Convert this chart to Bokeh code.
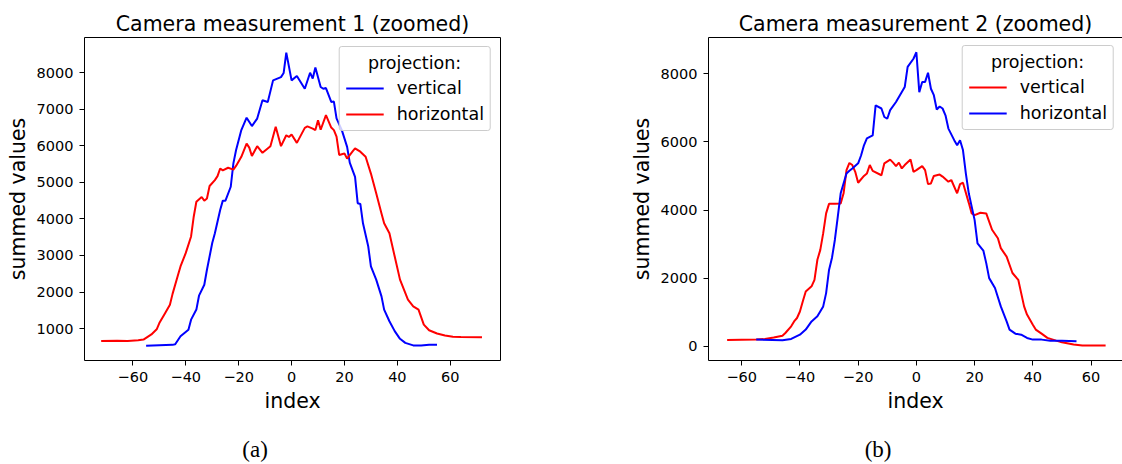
from bokeh.plotting import figure
from bokeh.models import Legend, LegendItem, LinearAxis, FixedTicker, Range1d
from bokeh.layouts import row
from bokeh.embed import file_html
from bokeh.resources import INLINE

# ---------------- data ----------------
# Measurement 1
m1_vert_x = [-55, -50, -45, -44, -42, -39, -38, -36, -35, -33, -32, -30, -29, -27, -26, -25, -23, -22, -21, -19,
             -17, -15, -13, -11, -9, -7, -4, -3, -2, 0, 2, 5, 7, 8, 9, 11, 12, 13, 15, 16,
             17, 19, 21, 22, 24, 25, 26, 27, 29, 30, 32, 34, 35, 37, 39, 41, 43, 46, 49, 52, 55]
m1_vert_y = [530, 545, 555, 570, 790, 970, 1245, 1520, 1900, 2200, 2610, 3340, 3610, 4245, 4500, 4500, 4880, 5520, 5880, 6430,
             6770, 6540, 6745, 7245, 7200, 7790, 7880, 7990, 8550, 7790, 7910, 7560, 8000, 7840, 8140, 7610, 7560, 7580, 7200, 7210,
             6750, 6430, 5970, 5540, 5150, 4430, 4410, 3880, 3245, 2700, 2340, 1880, 1520, 1200, 930, 720, 610, 540, 535, 555, 555]
m1_horz_x = [-72, -66, -62, -58, -56, -53, -51, -50, -48, -46, -45, -43, -42, -40, -38, -37, -36, -34, -33, -32,
             -31, -29, -28, -27, -26, -24, -22, -21, -19, -17, -16, -15, -13, -11, -8, -6, -4, -2, -1, 0,
             2, 5, 6, 8, 9, 10, 11, 13, 15, 16, 17, 18, 20, 21, 23, 24, 26, 28, 30, 32,
             34, 35, 37, 39, 41, 44, 46, 48, 50, 52, 55, 58, 61, 64, 72]
m1_horz_y = [660, 670, 660, 680, 700, 840, 980, 1150, 1400, 1650, 1950, 2450, 2700, 3070, 3520, 4060, 4470, 4600, 4500, 4560,
             4900, 5060, 5170, 5380, 5330, 5400, 5350, 5450, 5700, 6060, 5950, 5720, 5990, 5810, 5990, 6520, 5990, 6290, 6240, 6310,
             6080, 6490, 6530, 6470, 6430, 6700, 6440, 6840, 6500, 6430, 6250, 5750, 5790, 5650, 5840, 5930, 5840, 5700, 5240, 4700,
             4150, 3880, 3610, 2970, 2340, 1790, 1610, 1520, 1110, 955, 865, 810, 775, 770, 760]

# Measurement 2
m2_vert_x = [-65, -55, -52, -49, -46, -45, -43, -42, -41, -40, -39, -38, -36, -35, -34, -33, -32, -31, -30, -28,
             -26, -25, -24, -23, -22, -21, -20, -18, -17, -16, -15, -12, -11, -9, -8, -7, -6, -5, -4, -2,
             -1, 0, 2, 3, 4, 5, 6, 8, 9, 11, 12, 14, 15, 16, 18, 19, 20, 22, 24, 25,
             26, 28, 29, 31, 33, 35, 36, 37, 38, 40, 41, 43, 45, 48, 50, 54, 57, 65]
m2_vert_y = [185, 195, 215, 255, 310, 390, 585, 730, 830, 1020, 1320, 1610, 1760, 1950, 2540, 2830, 3320, 3900, 4180, 4180,
             4190, 4490, 5170, 5380, 5320, 5120, 4800, 5000, 5070, 5320, 5150, 5020, 5370, 5480, 5390, 5290, 5390, 5220, 5320, 5480,
             5120, 5170, 5290, 5170, 4760, 4780, 5000, 5040, 4980, 4830, 4880, 4490, 4760, 4800, 4210, 3900, 3850, 3920, 3900, 3660,
             3420, 3170, 2880, 2630, 2150, 1950, 1560, 1170, 930, 630, 490, 370, 245, 165, 115, 50, 20, 20]
m2_horz_x = [-55, -46, -43, -40, -38, -36, -34, -32, -31, -30, -29, -28, -27, -26, -24, -23, -22, -20, -19, -18,
             -17, -15, -14, -12, -11, -10, -9, -7, -6, -4, -3, -1, 0, 1, 2, 3, 4, 5, 6, 7,
             8, 9, 10, 11, 13, 14, 15, 16, 17, 18, 19, 20, 21, 23, 24, 25, 27, 29, 31, 32,
             34, 36, 38, 40, 43, 46, 50, 55]
m2_horz_y = [195, 175, 215, 340, 490, 730, 880, 1170, 1560, 2240, 2590, 3120, 3800, 4490, 5070, 5150, 5220, 5370, 5600, 5900,
             6100, 6190, 7070, 6980, 6730, 6680, 6930, 7170, 7320, 7610, 8200, 8440, 8630, 7460, 7760, 7760, 8030, 7560, 7370, 6950,
             7040, 6980, 6780, 6390, 6050, 5900, 6050, 5760, 5070, 4490, 4100, 3710, 3020, 2810, 2440, 2000, 1710, 1170, 730, 490,
             370, 340, 245, 195, 195, 165, 165, 145]

x_ticks = [-60, -40, -20, 0, 20, 40, 60]
y_ticks_1 = [1000, 2000, 3000, 4000, 5000, 6000, 7000, 8000]
y_ticks_2 = [0, 2000, 4000, 6000, 8000]
titles = ["Camera measurement 1 (zoomed)", "Camera measurement 2 (zoomed)"]
captions = ["(a)", "(b)"]
legend_title = "projection:"

FONT = "DejaVu Sans"
BLUE = "#0000ff"
RED = "#ff0000"


def border_axis():
    return LinearAxis(ticker=FixedTicker(ticks=[]), major_tick_out=0, major_tick_in=0,
                      minor_tick_out=0, minor_tick_in=0, major_label_standoff=0,
                      major_label_text_font_size="0px", axis_line_color="black", axis_line_width=1)


def make_fig(title, width, minl, minr, xr, yr, yticks, right_border):
    p = figure(width=width, height=464, output_backend="svg", toolbar_location=None,
               x_range=Range1d(*xr), y_range=Range1d(*yr),
               min_border_left=minl, min_border_right=minr, min_border_top=37, min_border_bottom=103,
               x_axis_label="index", y_axis_label="summed values", title=title)
    p.outline_line_color = None
    p.grid.visible = False
    p.background_fill_color = "white"
    p.border_fill_color = "white"
    p.title.align = "center"
    p.title.text_font = FONT
    p.title.text_font_size = "20.5px"
    p.title.text_font_style = "normal"
    p.title.text_color = "black"
    p.title.standoff = 3
    p.xaxis.ticker = FixedTicker(ticks=x_ticks)
    p.xaxis.major_label_overrides = {t: ("\u2212" + str(-t)) for t in x_ticks if t < 0}
    p.yaxis.ticker = FixedTicker(ticks=yticks)
    for ax in (p.xaxis, p.yaxis):
        ax.axis_line_color = "black"
        ax.axis_line_width = 1
        ax.major_tick_line_color = "black"
        ax.major_tick_line_width = 1
        ax.major_tick_out = 5
        ax.major_tick_in = 0
        ax.minor_tick_line_color = None
        ax.major_label_standoff = 6
        ax.major_label_text_font = FONT
        ax.major_label_text_font_size = "14.5px"
        ax.major_label_text_color = "black"
        ax.axis_label_text_font = FONT
        ax.axis_label_text_font_size = "20.5px"
        ax.axis_label_text_font_style = "normal"
        ax.axis_label_text_color = "black"
        ax.axis_label_standoff = 4
    p.add_layout(border_axis(), "above")
    if right_border:
        p.add_layout(border_axis(), "right")
    return p


def add_legend(p, items, margin):
    kw = {}
    if "border_radius" in Legend.properties():
        kw["border_radius"] = 3
    leg = Legend(items=items, location="top_right", margin=margin,
                 title="\u00a0\u00a0\u00a0\u00a0" + legend_title,
                 title_text_font=FONT, title_text_font_size="17.5px", title_text_font_style="normal",
                 title_text_color="black", title_standoff=5,
                 label_text_font=FONT, label_text_font_size="17.5px", label_text_color="black",
                 glyph_width=38, glyph_height=20, label_height=20, label_standoff=13,
                 padding=6, spacing=6,
                 border_line_color="#cccccc", border_line_width=1, border_line_alpha=1,
                 background_fill_color="white", background_fill_alpha=0.8, **kw)
    p.add_layout(leg)


def add_caption(p, text):
    # caption drawn as the label of a tick-less axis below the x axis
    cap = LinearAxis(ticker=FixedTicker(ticks=[]), axis_line_color=None,
                     major_tick_line_color=None, minor_tick_line_color=None,
                     major_tick_out=0, major_tick_in=0, minor_tick_out=0, minor_tick_in=0,
                     major_label_standoff=0, major_label_text_font_size="0px",
                     axis_label=text + "\u00a0" * 13, axis_label_standoff=21,
                     axis_label_text_font="Liberation Serif", axis_label_text_font_size="23px",
                     axis_label_text_font_style="normal", axis_label_text_color="black")
    p.add_layout(cap, "below")


# ---------- figure 1 ----------
p1 = make_fig(titles[0], 600, 84, 100, (-78.3, 79.0), (127, 8963), y_ticks_1, True)
r1v = p1.line(m1_vert_x, m1_vert_y, line_color=BLUE, line_width=2)
r1h = p1.line(m1_horz_x, m1_horz_y, line_color=RED, line_width=2)
add_legend(p1, [LegendItem(label="vertical", renderers=[r1v]),
                LegendItem(label="horizontal", renderers=[r1h])], 9)
add_caption(p1, captions[0])

# ---------- figure 2 ----------
p2 = make_fig(titles[1], 522, 108, 0, (-71.4, 70.8), (-418, 9064), y_ticks_2, False)
r2v = p2.line(m2_vert_x, m2_vert_y, line_color=RED, line_width=2)
r2h = p2.line(m2_horz_x, m2_horz_y, line_color=BLUE, line_width=2)
add_legend(p2, [LegendItem(label="vertical", renderers=[r2v]),
                LegendItem(label="horizontal", renderers=[r2h])], 8)
add_caption(p2, captions[1])

layout = row(p1, p2)
open("out.html", "w").write(file_html(layout, INLINE))
